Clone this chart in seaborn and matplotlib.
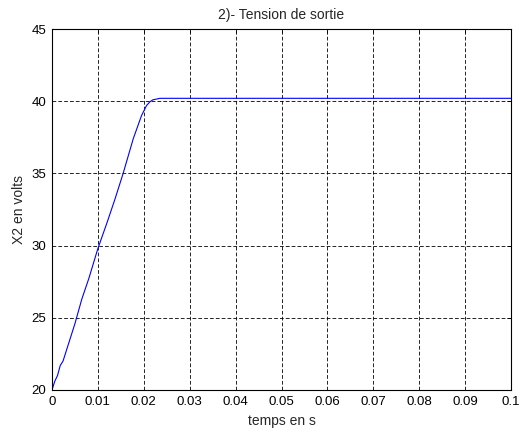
import matplotlib
matplotlib.use("Agg")
import matplotlib.pyplot as plt
import seaborn as sns
import pandas as pd

# Output voltage response: ramp from 20 V to the 40.2 V plateau
temps = [0, 0.0006, 0.0012, 0.0018, 0.0024, 0.003, 0.004, 0.005, 0.0065, 0.008,
         0.010, 0.012, 0.0137, 0.0155, 0.0177, 0.0195, 0.0206, 0.0213, 0.022,
         0.0228, 0.0235, 0.1]
tension = [20.0, 20.6, 21.0, 21.7, 22.0, 22.6, 23.6, 24.6, 26.3, 27.7,
           29.8, 31.6, 33.2, 35.0, 37.4, 39.0, 39.7, 39.95, 40.1,
           40.15, 40.2, 40.2]

x_ticks = [0, 0.01, 0.02, 0.03, 0.04, 0.05, 0.06, 0.07, 0.08, 0.09, 0.1]
x_labels = ["0", "0.01", "0.02", "0.03", "0.04", "0.05", "0.06", "0.07", "0.08", "0.09", "0.1"]
y_ticks = [20, 25, 30, 35, 40, 45]

sns.set_style("white")
plt.rcParams['font.family'] = ['Liberation Sans', 'DejaVu Sans']

df = pd.DataFrame({"t": temps, "v": tension})

fig = plt.figure(figsize=(5.23, 4.32), dpi=100)
ax = fig.add_axes([52 / 523, 1 - 390 / 432, 459 / 523, 361 / 432])

sns.lineplot(data=df, x="t", y="v", ax=ax, color=(0, 0, 1), linewidth=0.8)

ax.set_xlim(0, 0.1)
ax.set_ylim(20, 45)
ax.set_xticks(x_ticks)
ax.set_xticklabels(x_labels)
ax.set_yticks(y_ticks)

ax.grid(True, color="black", linestyle=(0, (4.5, 2.5)), linewidth=0.6)
ax.tick_params(direction="in", length=3, width=0.6, top=True, right=True,
               labelsize=9.5, colors="black", pad=4)
for s in ax.spines.values():
    s.set_color("black")
    s.set_linewidth(0.8)

ax.set_title("2)- Tension de sortie", fontsize=10, pad=7)
ax.set_xlabel("temps en s", fontsize=10, labelpad=5)
ax.set_ylabel("X2 en volts", fontsize=10, labelpad=4)

fig.savefig("out.png", dpi=100)
